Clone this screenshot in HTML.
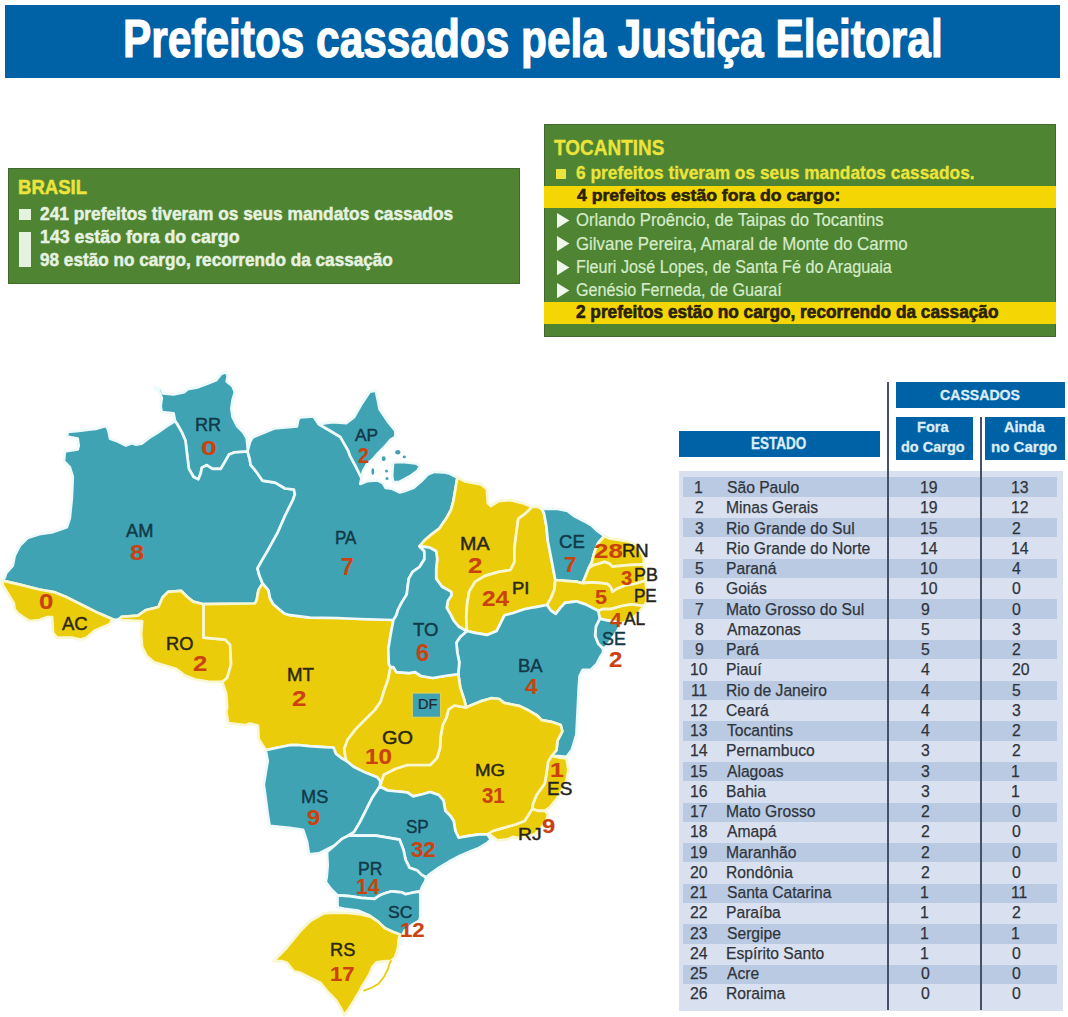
<!DOCTYPE html>
<html><head><meta charset="utf-8"><title>Prefeitos cassados pela Justiça Eleitoral</title><style>
html,body{margin:0;padding:0}
body{width:1068px;height:1017px;background:#fff;position:relative;overflow:hidden;font-family:"Liberation Sans",sans-serif}
.a{position:absolute;white-space:nowrap;line-height:1;transform-origin:0 0}
.r{position:absolute}
svg{position:absolute;left:0;top:0}
</style></head><body>
<div class="r" style="left:5px;top:5px;width:1055px;height:73px;background:#0062a6"></div>
<div class="r" style="left:8.4px;top:168.3px;width:511.4px;height:115.9px;background:#4f8433;box-shadow:inset 0 0 0 1px rgba(50,70,45,.45)"></div>
<div class="r" style="left:19px;top:208.5px;width:12px;height:11.5px;background:#e6f2e0"></div>
<div class="r" style="left:19px;top:231.5px;width:12px;height:35px;background:#e6f2e0"></div>
<div class="r" style="left:544.2px;top:124.1px;width:511.7px;height:212.7px;background:#4f8433;box-shadow:inset 0 0 0 1px rgba(50,70,45,.45)"></div>
<div class="r" style="left:544.2px;top:186px;width:511.7px;height:22px;background:#f4d604"></div>
<div class="r" style="left:544.2px;top:302px;width:511.7px;height:22px;background:#f4d604"></div>
<div class="r" style="left:555.5px;top:168.7px;width:10.3px;height:10.1px;background:#ece43c"></div>
<svg style="left:556.8px;top:212.8px" width="13" height="16"><polygon points="0,0 12.4,7.6 0,15.2" fill="#f0f7ec"/></svg>
<svg style="left:556.8px;top:236.4px" width="13" height="16"><polygon points="0,0 12.4,7.6 0,15.2" fill="#f0f7ec"/></svg>
<svg style="left:556.8px;top:259.5px" width="13" height="16"><polygon points="0,0 12.4,7.6 0,15.2" fill="#f0f7ec"/></svg>
<svg style="left:556.8px;top:282.5px" width="13" height="16"><polygon points="0,0 12.4,7.6 0,15.2" fill="#f0f7ec"/></svg>
<div class="r" style="left:679px;top:431px;width:200.5px;height:26px;background:#0062a6"></div>
<div class="r" style="left:896.3px;top:381.5px;width:168.7px;height:26px;background:#0062a6"></div>
<div class="r" style="left:895.8px;top:416.7px;width:77px;height:43.3px;background:#0062a6"></div>
<div class="r" style="left:985px;top:416.7px;width:80px;height:43.3px;background:#0062a6"></div>
<div class="r" style="left:679px;top:470.5px;width:384px;height:540px;background:#d9e0ef"></div>
<div class="r" style="left:683px;top:477.40px;width:373.5px;height:19.3px;background:#bacae3"></div>
<div class="r" style="left:683px;top:518.04px;width:373.5px;height:19.3px;background:#bacae3"></div>
<div class="r" style="left:683px;top:558.68px;width:373.5px;height:19.3px;background:#bacae3"></div>
<div class="r" style="left:683px;top:599.32px;width:373.5px;height:19.3px;background:#bacae3"></div>
<div class="r" style="left:683px;top:639.96px;width:373.5px;height:19.3px;background:#bacae3"></div>
<div class="r" style="left:683px;top:680.60px;width:373.5px;height:19.3px;background:#bacae3"></div>
<div class="r" style="left:683px;top:721.24px;width:373.5px;height:19.3px;background:#bacae3"></div>
<div class="r" style="left:683px;top:761.88px;width:373.5px;height:19.3px;background:#bacae3"></div>
<div class="r" style="left:683px;top:802.52px;width:373.5px;height:19.3px;background:#bacae3"></div>
<div class="r" style="left:683px;top:843.16px;width:373.5px;height:19.3px;background:#bacae3"></div>
<div class="r" style="left:683px;top:883.80px;width:373.5px;height:19.3px;background:#bacae3"></div>
<div class="r" style="left:683px;top:924.44px;width:373.5px;height:19.3px;background:#bacae3"></div>
<div class="r" style="left:683px;top:965.08px;width:373.5px;height:19.3px;background:#bacae3"></div>
<div class="r" style="left:886.5px;top:381.7px;width:2px;height:628px;background:#465066"></div>
<div class="r" style="left:979.5px;top:416.7px;width:2px;height:593px;background:#465066"></div>
<svg width="1068" height="1017" viewBox="0 0 1068 1017" style="left:0;top:0">
<polygon points="175.0,421.0 173.6,413.3 161.8,412.2 160.6,406.3 161.8,398.0 159.4,392.1 154.7,388.6 154.7,387.4 161.8,389.8 163.0,393.3 173.6,394.5 184.2,392.1 187.7,389.2 197.2,387.4 206.6,383.9 216.0,380.3 220.8,374.4 225.5,372.1 227.8,375.6 226.7,381.5 232.5,386.2 234.9,392.1 232.5,400.4 231.4,408.6 232.5,416.9 237.3,426.3 243.2,432.2 246.7,438.1 247.9,449.9 247.5,451.5 234.9,452.3 229.0,454.6 224.3,462.9 220.8,468.8 212.5,468.8 206.6,465.2 201.9,467.6 200.7,473.5 198.3,479.4 193.6,477.0 188.9,468.8 187.7,459.3 185.4,440.5 181.8,432.2 177.1,424.0" fill="#40a3b4" stroke="#eef9fa" stroke-width="2.7" stroke-linejoin="round"/>
<polygon points="2.5,580.6 4.9,577.3 5.9,573.4 12.8,565.5 14.7,555.7 19.7,545.9 27.5,538.0 39.3,534.1 53.1,532.1 66.9,527.2 69.8,518.3 71.8,498.7 72.8,477.0 69.8,467.2 63.9,461.3 64.9,451.5 77.7,449.5 78.7,445.6 77.7,438.7 66.9,436.7 67.8,431.8 78.7,430.8 90.5,429.4 96.4,428.8 102.3,426.9 106.2,425.9 108.2,429.8 110.1,438.7 118.0,441.6 125.9,445.6 131.8,443.2 135.7,444.6 141.6,443.6 149.5,437.7 157.3,432.8 167.2,425.9 175.0,421.0 177.1,424.0 181.8,432.2 185.4,440.5 187.7,459.3 188.9,468.8 193.6,477.0 198.3,479.4 200.7,473.5 201.9,467.6 206.6,465.2 212.5,468.8 220.8,468.8 224.3,462.9 229.0,454.6 234.9,452.3 247.5,451.5 249.7,459.0 250.6,464.9 255.6,470.8 262.4,480.6 275.2,482.6 285.1,488.5 293.9,489.5 294.9,494.4 292.9,500.0 285.2,515.5 277.4,533.2 267.6,550.9 261.7,560.9 257.5,568.4 259.2,575.1 262.6,583.4 258.4,590.1 256.7,600.2 255.0,603.5 203.6,604.2 193.0,601.6 186.5,596.2 181.1,590.8 168.1,591.9 162.7,597.3 158.4,607.0 145.4,610.3 137.9,615.7 121.6,616.8 120.0,618.5 116.0,620.0 112.1,619.0 98.3,613.1 82.6,605.2 64.9,596.4 55.1,592.4 39.3,589.5 19.7,584.6" fill="#40a3b4" stroke="#eef9fa" stroke-width="2.7" stroke-linejoin="round"/>
<polygon points="2.5,580.6 19.7,584.6 39.3,589.5 55.1,592.4 64.9,596.4 82.6,605.2 98.3,613.1 112.1,619.0 110.1,623.9 94.4,630.8 86.5,637.7 80.6,639.6 72.8,637.7 57.0,637.7 53.1,632.8 52.1,617.0 47.2,617.0 39.3,620.0 29.5,621.0 24.6,618.0 17.7,613.1 14.7,609.2 13.8,603.3 7.9,593.4 2.9,585.6" fill="#eacc0a" stroke="#f8f7d2" stroke-width="2.7" stroke-linejoin="round"/>
<polygon points="120.0,618.5 121.6,616.8 137.9,615.7 145.4,610.3 158.4,607.0 162.7,597.3 168.1,591.9 181.1,590.8 186.5,596.2 193.0,601.6 203.6,604.2 203.6,637.7 225.2,639.6 230.1,644.6 231.1,664.2 227.2,678.0 222.3,681.9 208.2,681.7 195.2,679.5 184.4,675.2 175.7,668.7 164.9,665.5 154.1,662.2 146.5,655.7 142.2,647.1 141.1,634.1 142.2,621.1 121.0,620.0" fill="#eacc0a" stroke="#f8f7d2" stroke-width="2.7" stroke-linejoin="round"/>
<polygon points="203.6,604.2 255.0,603.5 256.7,600.2 258.4,590.1 262.6,583.4 268.4,590.1 270.1,598.5 273.4,604.3 279.3,609.3 284.3,613.5 290.1,615.2 310.0,617.7 337.3,618.0 360.0,619.0 393.4,620.0 390.7,634.3 388.3,649.1 388.8,663.8 390.5,667.2 388.0,680.0 384.3,690.0 380.7,701.8 374.8,710.1 365.4,719.5 356.0,728.9 347.7,739.6 344.2,749.0 345.5,757.0 346.5,761.0 341.8,758.4 335.9,753.7 333.5,747.5 330.0,747.5 324.7,747.2 309.0,746.2 298.0,745.0 289.3,745.2 279.5,747.2 265.7,750.1 258.8,739.3 257.9,725.6 250.0,723.6 244.9,725.2 228.2,723.2 226.2,711.4 227.2,707.5 226.2,693.7 222.3,681.9 227.2,678.0 231.1,664.2 230.1,644.6 225.2,639.6 203.6,637.7" fill="#eacc0a" stroke="#f8f7d2" stroke-width="2.7" stroke-linejoin="round"/>
<polygon points="247.5,451.5 250.0,442.0 252.6,437.4 259.5,434.4 274.2,428.5 296.9,426.5 298.3,419.5 300.0,417.5 313.5,416.5 315.5,419.5 318.7,424.1 330.5,431.0 340.3,436.9 348.2,450.6 350.0,455.9 355.6,466.2 361.5,478.0 360.3,484.0 366.9,481.2 377.2,480.3 382.8,483.1 385.6,487.8 392.1,488.7 399.6,492.4 406.2,490.6 413.7,487.8 421.2,481.2 427.7,474.6 434.3,471.8 443.6,472.3 450.0,473.7 457.4,477.5 453.4,501.1 451.0,510.0 446.0,518.8 439.2,528.7 431.3,534.6 424.4,540.5 419.5,546.4 424.4,551.3 424.4,559.2 419.5,567.0 412.6,571.9 408.7,578.8 407.7,586.7 406.7,594.6 401.8,602.4 397.9,610.0 396.4,615.1 393.4,620.0 360.0,619.0 337.3,618.0 310.0,617.7 290.1,615.2 284.3,613.5 279.3,609.3 273.4,604.3 270.1,598.5 268.4,590.1 262.6,583.4 259.2,575.1 257.5,568.4 261.7,560.9 267.6,550.9 277.4,533.2 285.2,515.5 292.9,500.0 294.9,494.4 293.9,489.5 285.1,488.5 275.2,482.6 262.4,480.6 255.6,470.8 250.6,464.9 249.7,459.0" fill="#40a3b4" stroke="#eef9fa" stroke-width="2.7" stroke-linejoin="round"/>
<polygon points="318.7,424.1 332.4,422.1 346.2,423.1 354.1,417.2 361.9,403.4 369.8,391.6 375.7,390.6 377.7,399.5 379.6,409.3 387.5,421.1 395.4,431.0 395.4,436.9 390.3,440.0 385.6,445.6 378.1,453.1 373.4,458.7 366.9,464.3 363.1,470.9 361.5,478.0 355.6,466.2 350.0,455.9 348.2,450.6 340.3,436.9 330.5,431.0" fill="#40a3b4" stroke="#eef9fa" stroke-width="2.7" stroke-linejoin="round"/>
<polygon points="393.1,462.5 402.4,462.0 415.5,463.4 420.2,465.7 417.4,470.9 410.9,475.6 404.3,479.3 398.7,482.1 393.1,482.1 392.1,475.6 392.6,468.1" fill="#40a3b4" stroke="#eef9fa" stroke-width="2.7" stroke-linejoin="round"/>
<polygon points="457.4,477.5 461.3,479.5 465.2,481.5 481.0,484.4 486.9,489.3 487.8,503.1 490.8,506.0 498.7,501.1 510.5,500.1 522.3,503.1 532.1,507.0 526.2,512.9 518.3,518.8 516.4,532.6 514.4,548.3 514.4,562.1 510.5,570.0 498.7,571.9 484.9,575.9 475.1,581.8 469.2,591.6 467.2,603.4 466.2,617.2 467.0,631.0 463.5,629.4 458.6,626.5 453.7,620.6 450.7,614.7 446.8,607.8 447.8,600.9 451.7,595.0 451.0,591.6 442.1,586.7 436.2,578.8 436.2,569.0 437.2,559.2 436.2,551.3 429.3,547.4 419.5,546.4 424.4,540.5 431.3,534.6 439.2,528.7 446.0,518.8 451.0,510.0 453.4,501.1" fill="#eacc0a" stroke="#f8f7d2" stroke-width="2.7" stroke-linejoin="round"/>
<polygon points="532.1,507.0 538.0,507.0 541.9,509.0 543.9,513.1 546.3,525.7 547.9,541.5 551.0,557.2 553.4,569.8 555.3,580.0 554.2,590.3 551.0,598.1 547.0,605.0 534.1,607.3 524.2,609.3 512.4,613.2 504.6,615.2 500.6,623.1 496.7,630.9 486.9,634.9 475.1,632.9 467.0,631.0 466.2,617.2 467.2,603.4 469.2,591.6 475.1,581.8 484.9,575.9 498.7,571.9 510.5,570.0 514.4,562.1 514.4,548.3 516.4,532.6 518.3,518.8 526.2,512.9" fill="#eacc0a" stroke="#f8f7d2" stroke-width="2.7" stroke-linejoin="round"/>
<polygon points="541.9,509.0 557.7,509.0 567.5,511.0 574.6,516.3 587.2,522.8 591.9,525.7 597.0,530.6 604.5,536.0 598.2,543.0 594.3,552.5 591.9,561.9 588.8,568.2 585.6,576.1 582.5,583.2 576.2,581.6 565.2,580.8 555.3,580.0 553.4,569.8 551.0,557.2 547.9,541.5 546.3,525.7 543.9,513.1" fill="#40a3b4" stroke="#eef9fa" stroke-width="2.7" stroke-linejoin="round"/>
<polygon points="604.5,536.0 609.2,538.3 618.7,539.9 628.1,541.5 636.0,544.6 640.7,550.9 643.9,558.8 643.9,564.3 628.1,565.1 620.3,565.9 612.4,566.6 609.2,563.5 604.5,561.9 599.8,563.5 593.5,565.1 588.8,568.2 591.9,561.9 594.3,552.5 598.2,543.0" fill="#eacc0a" stroke="#f8f7d2" stroke-width="2.7" stroke-linejoin="round"/>
<polygon points="588.8,568.2 593.5,565.1 599.8,563.5 604.5,561.9 609.2,563.5 612.4,566.6 620.3,565.9 628.1,565.1 643.9,564.3 645.4,572.9 645.4,580.8 634.4,584.0 625.0,585.5 617.1,588.7 612.4,591.8 610.8,587.1 607.7,584.0 601.4,583.2 591.9,582.4 582.5,583.2 585.6,576.1" fill="#eacc0a" stroke="#f8f7d2" stroke-width="2.7" stroke-linejoin="round"/>
<polygon points="582.5,583.2 591.9,582.4 601.4,583.2 607.7,584.0 610.8,587.1 612.4,591.8 617.1,588.7 625.0,585.5 634.4,584.0 645.4,580.8 647.0,591.8 647.0,601.3 643.9,606.0 631.3,604.4 621.8,606.0 610.8,609.1 602.9,609.1 598.2,610.7 591.9,607.6 585.6,604.4 576.2,601.3 565.2,602.8 560.5,607.6 555.7,613.9 551.0,610.7 547.0,605.0 551.0,598.1 554.2,590.3 555.3,580.0 565.2,580.8 576.2,581.6" fill="#eacc0a" stroke="#f8f7d2" stroke-width="2.7" stroke-linejoin="round"/>
<polygon points="598.2,610.7 602.9,609.1 610.8,609.1 621.8,606.0 631.3,604.4 643.9,606.0 637.6,613.9 629.7,620.2 621.8,623.3 614.0,621.7 606.1,620.2 599.8,618.6" fill="#eacc0a" stroke="#f8f7d2" stroke-width="2.7" stroke-linejoin="round"/>
<polygon points="599.8,618.6 606.1,620.2 614.0,621.7 621.8,623.3 617.1,631.2 610.8,640.6 606.1,646.9 602.9,648.5 598.2,643.8 595.1,635.9 595.9,626.4" fill="#40a3b4" stroke="#eef9fa" stroke-width="2.7" stroke-linejoin="round"/>
<polygon points="458.3,674.1 459.3,662.3 457.3,652.4 456.4,642.6 460.3,636.7 467.0,631.0 475.1,632.9 486.9,634.9 496.7,630.9 500.6,623.1 504.6,615.2 512.4,613.2 524.2,609.3 534.1,607.3 547.0,605.0 551.0,610.7 555.7,613.9 560.5,607.6 565.2,602.8 576.2,601.3 585.6,604.4 591.9,607.6 598.2,610.7 599.8,618.6 595.9,626.4 595.1,635.9 598.2,643.8 602.9,648.5 603.2,652.6 600.0,657.3 596.9,663.6 590.6,669.9 582.7,669.9 579.6,676.2 578.8,687.2 578.0,702.9 577.2,718.7 576.4,734.4 573.3,745.0 571.7,750.1 566.6,756.9 559.0,756.0 551.5,756.0 556.5,750.1 557.5,740.7 562.3,731.3 560.7,725.0 551.3,721.8 541.8,720.2 537.1,715.5 529.2,710.8 519.8,706.1 511.9,704.5 504.1,702.9 499.3,699.0 491.5,698.2 480.5,701.4 469.4,706.1 466.2,707.5 464.2,699.6 460.3,687.8" fill="#40a3b4" stroke="#eef9fa" stroke-width="2.7" stroke-linejoin="round"/>
<polygon points="551.5,756.0 559.9,757.7 566.6,758.5 568.3,770.3 566.6,780.5 561.6,790.6 556.5,799.0 549.8,807.4 544.7,810.8 538.0,810.8 532.1,809.1 532.9,804.0 536.3,795.6 539.7,790.6 544.7,783.8 546.4,773.7 548.1,761.9" fill="#eacc0a" stroke="#f8f7d2" stroke-width="2.7" stroke-linejoin="round"/>
<polygon points="532.1,809.1 538.0,810.8 544.7,810.8 548.1,814.2 546.4,820.9 541.4,827.6 534.6,834.4 526.2,836.9 517.8,837.8 512.7,836.9 507.6,839.4 497.5,840.3 494.2,837.8 490.8,835.2 487.4,834.4 492.5,831.0 504.3,827.6 516.1,824.3 524.5,820.9 527.9,815.8" fill="#eacc0a" stroke="#f8f7d2" stroke-width="2.7" stroke-linejoin="round"/>
<polygon points="466.2,707.5 469.4,706.1 480.5,701.4 491.5,698.2 499.3,699.0 504.1,702.9 511.9,704.5 519.8,706.1 529.2,710.8 537.1,715.5 541.8,720.2 551.3,721.8 560.7,725.0 562.3,731.3 557.5,740.7 556.5,750.1 551.5,756.0 548.1,761.9 546.4,773.7 544.7,783.8 539.7,790.6 536.3,795.6 532.9,804.0 532.1,809.1 527.9,815.8 524.5,820.9 516.1,824.3 504.3,827.6 492.5,831.0 487.4,834.4 479.0,834.4 467.2,836.1 458.8,837.8 455.4,831.0 453.7,820.9 450.3,815.8 445.3,810.8 443.6,800.7 438.8,795.0 430.1,792.0 423.1,794.0 413.2,796.4 407.3,792.4 387.7,790.5 379.8,786.5 383.7,774.7 395.5,768.8 407.3,765.0 423.1,765.0 430.1,765.0 437.0,758.0 440.0,748.0 440.6,737.0 442.6,725.2 446.5,717.3 448.5,709.5 454.4,705.5" fill="#eacc0a" stroke="#f8f7d2" stroke-width="2.7" stroke-linejoin="round"/>
<polygon points="390.5,667.2 393.4,667.2 396.4,672.1 409.2,673.1 415.1,672.1 421.0,676.0 432.8,678.0 444.6,676.0 458.3,674.1 460.3,687.8 464.2,699.6 466.2,707.5 454.4,705.5 448.5,709.5 446.5,717.3 442.6,725.2 440.6,737.0 440.0,748.0 437.0,758.0 430.1,765.0 423.1,765.0 407.3,765.0 395.5,768.8 383.7,774.7 379.8,786.5 380.3,781.0 377.2,777.3 365.4,772.6 353.6,766.7 346.5,761.0 345.5,757.0 344.2,749.0 347.7,739.6 356.0,728.9 365.4,719.5 374.8,710.1 380.7,701.8 384.3,690.0 388.0,680.0" fill="#eacc0a" stroke="#f8f7d2" stroke-width="2.7" stroke-linejoin="round"/>
<polygon points="419.5,546.4 429.3,547.4 436.2,551.3 437.2,559.2 436.2,569.0 436.2,578.8 442.1,586.7 451.0,591.6 451.7,595.0 447.8,600.9 446.8,607.8 450.7,614.7 453.7,620.6 458.6,626.5 463.5,629.4 467.0,631.0 460.3,636.7 456.4,642.6 457.3,652.4 459.3,662.3 458.3,674.1 444.6,676.0 432.8,678.0 421.0,676.0 415.1,672.1 409.2,673.1 396.4,672.1 393.4,667.2 390.5,667.2 388.8,663.8 388.3,649.1 390.7,634.3 393.4,620.0 396.4,615.1 397.9,610.0 401.8,602.4 406.7,594.6 407.7,586.7 408.7,578.8 412.6,571.9 419.5,567.0 424.4,559.2 424.4,551.3" fill="#40a3b4" stroke="#eef9fa" stroke-width="2.7" stroke-linejoin="round"/>
<polygon points="265.7,750.1 279.5,747.2 289.3,745.2 298.0,745.0 309.0,746.2 324.7,747.2 330.0,747.5 333.5,747.5 335.9,753.7 341.8,758.4 346.5,761.0 353.6,766.7 365.4,772.6 377.2,777.3 380.3,781.0 379.8,786.5 371.9,798.3 366.0,810.1 360.1,821.9 354.2,831.8 348.3,835.7 342.4,838.6 334.6,845.5 318.8,853.4 309.0,854.4 307.0,841.6 303.1,829.8 289.3,827.8 269.7,825.9 267.7,814.1 265.7,798.3 263.8,784.6 265.7,772.8 267.7,761.0" fill="#40a3b4" stroke="#eef9fa" stroke-width="2.7" stroke-linejoin="round"/>
<polygon points="348.3,835.7 354.2,831.8 360.1,821.9 366.0,810.1 371.9,798.3 379.8,786.5 387.7,790.5 407.3,792.4 413.2,796.4 423.1,794.0 430.1,792.0 438.8,795.0 443.6,800.7 445.3,810.8 450.3,815.8 453.7,820.9 455.4,831.0 458.8,837.8 467.2,836.1 479.0,834.4 487.4,834.4 490.8,839.4 487.4,842.8 479.0,847.9 470.6,851.2 459.6,855.9 448.8,861.8 439.0,867.7 429.2,874.6 426.2,877.5 421.3,874.6 417.4,870.6 409.5,867.7 405.6,859.8 403.4,849.5 399.5,839.6 387.7,837.7 375.9,835.7 360.1,835.7" fill="#40a3b4" stroke="#eef9fa" stroke-width="2.7" stroke-linejoin="round"/>
<polygon points="348.3,835.7 360.1,835.7 375.9,835.7 387.7,837.7 399.5,839.6 403.4,849.5 405.6,859.8 409.5,867.7 417.4,870.6 421.3,874.6 426.2,877.5 425.2,881.5 422.3,886.4 420.3,891.3 414.4,892.3 405.6,894.2 401.6,892.3 391.8,891.3 384.9,893.3 380.0,895.2 374.6,898.8 361.1,897.9 349.3,896.2 337.5,895.4 330.8,888.7 325.7,881.9 326.7,877.0 327.7,865.2 327.0,852.0 334.6,845.5 342.4,838.6" fill="#40a3b4" stroke="#eef9fa" stroke-width="2.7" stroke-linejoin="round"/>
<polygon points="337.5,895.4 349.3,896.2 361.1,897.9 374.6,898.8 380.0,895.2 384.9,893.3 391.8,891.3 401.6,892.3 405.6,894.2 414.4,892.3 420.3,891.3 420.3,904.1 420.3,916.9 419.3,920.8 412.4,924.7 404.6,930.6 402.6,934.6 401.8,941.4 401.6,944.6 399.9,941.0 399.7,934.5 391.8,931.6 385.9,928.7 380.0,924.7 378.0,922.4 369.6,915.6 357.8,910.6 344.3,908.9 337.5,907.2" fill="#40a3b4" stroke="#eef9fa" stroke-width="2.7" stroke-linejoin="round"/>
<polygon points="399.9,934.6 393.2,932.0 384.7,928.0 378.0,921.5 371.2,917.0 361.1,914.4 347.6,912.8 334.2,912.6 324.0,913.4 310.6,920.7 300.5,930.8 293.7,939.2 285.3,949.3 276.9,957.8 273.5,961.1 281.9,961.1 287.0,962.8 293.7,971.2 300.5,972.9 310.6,978.0 320.7,983.0 327.4,991.5 335.8,999.9 340.9,1008.3 344.3,1015.1 349.3,1008.3 354.4,999.9 357.2,995.0 359.3,992.0 362.0,986.4 366.2,979.6 369.6,974.0 372.3,967.2 376.5,962.3 381.3,961.7 386.8,961.0 391.0,961.0 395.0,957.5 398.0,948.0 398.5,940.3" fill="#eacc0a" stroke="#f8f7d2" stroke-width="2.7" stroke-linejoin="round"/>
<polyline points="391.0,961.0 389.5,963.5 388.2,968.5 384.0,976.8 378.5,983.7 371.7,987.8 364.1,990.6" fill="none" stroke="#eacc0a" stroke-width="1.8" stroke-linecap="round"/>
<ellipse cx="397.8" cy="452.2" rx="2.6" ry="2.2" fill="#40a3b4"/>
<ellipse cx="404.3" cy="456.9" rx="1.6" ry="1.4" fill="#40a3b4"/>
<ellipse cx="383.7" cy="458.7" rx="2.0" ry="2.4" fill="#40a3b4"/>
<ellipse cx="372.8" cy="471.5" rx="1.4" ry="3.2" fill="#40a3b4"/>
<ellipse cx="386.5" cy="470.9" rx="1.5" ry="1.5" fill="#40a3b4"/>
<ellipse cx="387" cy="478.4" rx="1.5" ry="1.5" fill="#40a3b4"/>
<rect x="412.3" y="693" width="28.3" height="24.3" fill="#40a3b4" stroke="#e0d050" stroke-width="1.2"/>
</svg>
<div class="a" style="left:123.36px;top:11.96px;font-size:53.09px;font-weight:bold;color:#fff;transform:scaleX(0.7984);-webkit-text-stroke:1.2px #fff;">Prefeitos cassados pela Justiça Eleitoral</div>
<div class="a" style="left:17.54px;top:177.45px;font-size:20.43px;font-weight:bold;color:#ece43c;transform:scaleX(0.9073);-webkit-text-stroke:0.5px #ece43c;">BRASIL</div>
<div class="a" style="left:40.03px;top:203.85px;font-size:19.14px;font-weight:bold;color:#e6f2e0;transform:scaleX(0.9059);-webkit-text-stroke:0.5px #e6f2e0;">241 prefeitos tiveram os seus mandatos cassados</div>
<div class="a" style="left:39.68px;top:226.85px;font-size:19.14px;font-weight:bold;color:#e6f2e0;transform:scaleX(0.9292);-webkit-text-stroke:0.5px #e6f2e0;">143 estão fora do cargo</div>
<div class="a" style="left:40.23px;top:249.95px;font-size:19.14px;font-weight:bold;color:#e6f2e0;transform:scaleX(0.8971);-webkit-text-stroke:0.5px #e6f2e0;">98 estão no cargo, recorrendo da cassação</div>
<div class="a" style="left:554.16px;top:137.07px;font-size:22.30px;font-weight:bold;color:#ece43c;transform:scaleX(0.8512);-webkit-text-stroke:0.3px #ece43c;">TOCANTINS</div>
<div class="a" style="left:576.13px;top:163.54px;font-size:18.56px;font-weight:bold;color:#ece43c;transform:scaleX(0.9340);-webkit-text-stroke:0.3px #ece43c;">6 prefeitos tiveram os seus mandatos cassados.</div>
<div class="a" style="left:576.62px;top:187.36px;font-size:17.41px;font-weight:bold;color:#2a2208;transform:scaleX(1.0118);-webkit-text-stroke:0.6px #2a2208;">4 prefeitos estão fora do cargo:</div>
<div class="a" style="left:576.28px;top:303.64px;font-size:17.55px;font-weight:bold;color:#2a2208;transform:scaleX(0.9831);-webkit-text-stroke:0.6px #2a2208;">2 prefeitos estão no cargo, recorrendo da cassação</div>
<div class="a" style="left:576.43px;top:210.18px;font-size:19.28px;font-weight:normal;color:#d6ecca;transform:scaleX(0.8643);-webkit-text-stroke:0.2px #d6ecca;">Orlando Proêncio, de Taipas do Tocantins</div>
<div class="a" style="left:576.26px;top:233.78px;font-size:19.28px;font-weight:normal;color:#d6ecca;transform:scaleX(0.8750);-webkit-text-stroke:0.2px #d6ecca;">Gilvane Pereira, Amaral de Monte do Carmo</div>
<div class="a" style="left:575.80px;top:256.88px;font-size:19.28px;font-weight:normal;color:#d6ecca;transform:scaleX(0.8400);-webkit-text-stroke:0.2px #d6ecca;">Fleuri José Lopes, de Santa Fé do Araguaia</div>
<div class="a" style="left:576.29px;top:279.88px;font-size:19.28px;font-weight:normal;color:#d6ecca;transform:scaleX(0.8392);-webkit-text-stroke:0.2px #d6ecca;">Genésio Ferneda, de Guaraí</div>
<div class="a" style="left:750.94px;top:436.27px;font-size:15.68px;font-weight:bold;color:#dcecf8;transform:scaleX(0.8619);-webkit-text-stroke:0.3px #dcecf8;">ESTADO</div>
<div class="a" style="left:939.59px;top:387.06px;font-size:15.11px;font-weight:bold;color:#dcecf8;transform:scaleX(0.9342);-webkit-text-stroke:0.3px #dcecf8;">CASSADOS</div>
<div class="a" style="left:916.78px;top:418.64px;font-size:15.25px;font-weight:bold;color:#dcecf8;transform:scaleX(0.9553);-webkit-text-stroke:0.3px #dcecf8;">Fora</div>
<div class="a" style="left:900.87px;top:438.68px;font-size:15.21px;font-weight:bold;color:#dcecf8;transform:scaleX(0.9535);-webkit-text-stroke:0.3px #dcecf8;">do Cargo</div>
<div class="a" style="left:1004.06px;top:418.64px;font-size:15.25px;font-weight:bold;color:#dcecf8;transform:scaleX(0.9581);-webkit-text-stroke:0.3px #dcecf8;">Ainda</div>
<div class="a" style="left:990.95px;top:438.64px;font-size:15.25px;font-weight:bold;color:#dcecf8;transform:scaleX(0.9870);-webkit-text-stroke:0.3px #dcecf8;">no Cargo</div>
<div class="a" style="left:694.46px;top:479.22px;font-size:17.19px;font-weight:normal;color:#2f343c;transform:scaleX(0.9200);-webkit-text-stroke:0.25px #2f343c;">1</div>
<div class="a" style="left:726.60px;top:479.22px;font-size:17.19px;font-weight:normal;color:#2f343c;transform:scaleX(0.9100);-webkit-text-stroke:0.25px #2f343c;">São Paulo</div>
<div class="a" style="left:920.42px;top:479.22px;font-size:17.19px;font-weight:normal;color:#2f343c;transform:scaleX(0.9200);-webkit-text-stroke:0.25px #2f343c;">19</div>
<div class="a" style="left:1011.22px;top:479.22px;font-size:17.19px;font-weight:normal;color:#2f343c;transform:scaleX(0.9200);-webkit-text-stroke:0.25px #2f343c;">13</div>
<div class="a" style="left:694.62px;top:499.47px;font-size:17.19px;font-weight:normal;color:#2f343c;transform:scaleX(0.9200);-webkit-text-stroke:0.25px #2f343c;">2</div>
<div class="a" style="left:725.97px;top:499.47px;font-size:17.19px;font-weight:normal;color:#2f343c;transform:scaleX(0.9100);-webkit-text-stroke:0.25px #2f343c;">Minas Gerais</div>
<div class="a" style="left:920.42px;top:499.47px;font-size:17.19px;font-weight:normal;color:#2f343c;transform:scaleX(0.9200);-webkit-text-stroke:0.25px #2f343c;">19</div>
<div class="a" style="left:1011.22px;top:499.47px;font-size:17.19px;font-weight:normal;color:#2f343c;transform:scaleX(0.9200);-webkit-text-stroke:0.25px #2f343c;">12</div>
<div class="a" style="left:694.69px;top:519.72px;font-size:17.19px;font-weight:normal;color:#2f343c;transform:scaleX(0.9200);-webkit-text-stroke:0.25px #2f343c;">3</div>
<div class="a" style="left:725.97px;top:519.72px;font-size:17.19px;font-weight:normal;color:#2f343c;transform:scaleX(0.9100);-webkit-text-stroke:0.25px #2f343c;">Rio Grande do Sul</div>
<div class="a" style="left:920.42px;top:519.72px;font-size:17.19px;font-weight:normal;color:#2f343c;transform:scaleX(0.9200);-webkit-text-stroke:0.25px #2f343c;">15</div>
<div class="a" style="left:1011.53px;top:519.72px;font-size:17.19px;font-weight:normal;color:#2f343c;transform:scaleX(0.9200);-webkit-text-stroke:0.25px #2f343c;">2</div>
<div class="a" style="left:694.69px;top:539.97px;font-size:17.19px;font-weight:normal;color:#2f343c;transform:scaleX(0.9200);-webkit-text-stroke:0.25px #2f343c;">4</div>
<div class="a" style="left:725.97px;top:539.97px;font-size:17.19px;font-weight:normal;color:#2f343c;transform:scaleX(0.9100);-webkit-text-stroke:0.25px #2f343c;">Rio Grande do Norte</div>
<div class="a" style="left:920.42px;top:539.97px;font-size:17.19px;font-weight:normal;color:#2f343c;transform:scaleX(0.9200);-webkit-text-stroke:0.25px #2f343c;">14</div>
<div class="a" style="left:1011.22px;top:539.97px;font-size:17.19px;font-weight:normal;color:#2f343c;transform:scaleX(0.9200);-webkit-text-stroke:0.25px #2f343c;">14</div>
<div class="a" style="left:694.62px;top:560.22px;font-size:17.19px;font-weight:normal;color:#2f343c;transform:scaleX(0.9200);-webkit-text-stroke:0.25px #2f343c;">5</div>
<div class="a" style="left:725.97px;top:560.22px;font-size:17.19px;font-weight:normal;color:#2f343c;transform:scaleX(0.9100);-webkit-text-stroke:0.25px #2f343c;">Paraná</div>
<div class="a" style="left:920.42px;top:560.22px;font-size:17.19px;font-weight:normal;color:#2f343c;transform:scaleX(0.9200);-webkit-text-stroke:0.25px #2f343c;">10</div>
<div class="a" style="left:1012.01px;top:560.22px;font-size:17.19px;font-weight:normal;color:#2f343c;transform:scaleX(0.9200);-webkit-text-stroke:0.25px #2f343c;">4</div>
<div class="a" style="left:694.54px;top:580.47px;font-size:17.19px;font-weight:normal;color:#2f343c;transform:scaleX(0.9200);-webkit-text-stroke:0.25px #2f343c;">6</div>
<div class="a" style="left:726.44px;top:580.47px;font-size:17.19px;font-weight:normal;color:#2f343c;transform:scaleX(0.9100);-webkit-text-stroke:0.25px #2f343c;">Goiás</div>
<div class="a" style="left:920.42px;top:580.47px;font-size:17.19px;font-weight:normal;color:#2f343c;transform:scaleX(0.9200);-webkit-text-stroke:0.25px #2f343c;">10</div>
<div class="a" style="left:1011.85px;top:580.47px;font-size:17.19px;font-weight:normal;color:#2f343c;transform:scaleX(0.9200);-webkit-text-stroke:0.25px #2f343c;">0</div>
<div class="a" style="left:694.62px;top:600.72px;font-size:17.19px;font-weight:normal;color:#2f343c;transform:scaleX(0.9200);-webkit-text-stroke:0.25px #2f343c;">7</div>
<div class="a" style="left:725.97px;top:600.72px;font-size:17.19px;font-weight:normal;color:#2f343c;transform:scaleX(0.9100);-webkit-text-stroke:0.25px #2f343c;">Mato Grosso do Sul</div>
<div class="a" style="left:920.89px;top:600.72px;font-size:17.19px;font-weight:normal;color:#2f343c;transform:scaleX(0.9200);-webkit-text-stroke:0.25px #2f343c;">9</div>
<div class="a" style="left:1011.85px;top:600.72px;font-size:17.19px;font-weight:normal;color:#2f343c;transform:scaleX(0.9200);-webkit-text-stroke:0.25px #2f343c;">0</div>
<div class="a" style="left:694.62px;top:620.97px;font-size:17.19px;font-weight:normal;color:#2f343c;transform:scaleX(0.9200);-webkit-text-stroke:0.25px #2f343c;">8</div>
<div class="a" style="left:727.23px;top:620.97px;font-size:17.19px;font-weight:normal;color:#2f343c;transform:scaleX(0.9100);-webkit-text-stroke:0.25px #2f343c;">Amazonas</div>
<div class="a" style="left:920.89px;top:620.97px;font-size:17.19px;font-weight:normal;color:#2f343c;transform:scaleX(0.9200);-webkit-text-stroke:0.25px #2f343c;">5</div>
<div class="a" style="left:1011.85px;top:620.97px;font-size:17.19px;font-weight:normal;color:#2f343c;transform:scaleX(0.9200);-webkit-text-stroke:0.25px #2f343c;">3</div>
<div class="a" style="left:694.70px;top:641.22px;font-size:17.19px;font-weight:normal;color:#2f343c;transform:scaleX(0.9200);-webkit-text-stroke:0.25px #2f343c;">9</div>
<div class="a" style="left:725.97px;top:641.22px;font-size:17.19px;font-weight:normal;color:#2f343c;transform:scaleX(0.9100);-webkit-text-stroke:0.25px #2f343c;">Pará</div>
<div class="a" style="left:920.89px;top:641.22px;font-size:17.19px;font-weight:normal;color:#2f343c;transform:scaleX(0.9200);-webkit-text-stroke:0.25px #2f343c;">5</div>
<div class="a" style="left:1011.53px;top:641.22px;font-size:17.19px;font-weight:normal;color:#2f343c;transform:scaleX(0.9200);-webkit-text-stroke:0.25px #2f343c;">2</div>
<div class="a" style="left:689.89px;top:661.47px;font-size:17.19px;font-weight:normal;color:#2f343c;transform:scaleX(0.9200);-webkit-text-stroke:0.25px #2f343c;">10</div>
<div class="a" style="left:725.97px;top:661.47px;font-size:17.19px;font-weight:normal;color:#2f343c;transform:scaleX(0.9100);-webkit-text-stroke:0.25px #2f343c;">Piauí</div>
<div class="a" style="left:921.21px;top:661.47px;font-size:17.19px;font-weight:normal;color:#2f343c;transform:scaleX(0.9200);-webkit-text-stroke:0.25px #2f343c;">4</div>
<div class="a" style="left:1011.53px;top:661.47px;font-size:17.19px;font-weight:normal;color:#2f343c;transform:scaleX(0.9200);-webkit-text-stroke:0.25px #2f343c;">20</div>
<div class="a" style="left:690.57px;top:681.72px;font-size:17.19px;font-weight:normal;color:#2f343c;transform:scaleX(0.9200);-webkit-text-stroke:0.25px #2f343c;">11</div>
<div class="a" style="left:725.97px;top:681.72px;font-size:17.19px;font-weight:normal;color:#2f343c;transform:scaleX(0.9100);-webkit-text-stroke:0.25px #2f343c;">Rio de Janeiro</div>
<div class="a" style="left:921.21px;top:681.72px;font-size:17.19px;font-weight:normal;color:#2f343c;transform:scaleX(0.9200);-webkit-text-stroke:0.25px #2f343c;">4</div>
<div class="a" style="left:1011.69px;top:681.72px;font-size:17.19px;font-weight:normal;color:#2f343c;transform:scaleX(0.9200);-webkit-text-stroke:0.25px #2f343c;">5</div>
<div class="a" style="left:689.97px;top:701.97px;font-size:17.19px;font-weight:normal;color:#2f343c;transform:scaleX(0.9200);-webkit-text-stroke:0.25px #2f343c;">12</div>
<div class="a" style="left:726.44px;top:701.97px;font-size:17.19px;font-weight:normal;color:#2f343c;transform:scaleX(0.9100);-webkit-text-stroke:0.25px #2f343c;">Ceará</div>
<div class="a" style="left:921.21px;top:701.97px;font-size:17.19px;font-weight:normal;color:#2f343c;transform:scaleX(0.9200);-webkit-text-stroke:0.25px #2f343c;">4</div>
<div class="a" style="left:1011.85px;top:701.97px;font-size:17.19px;font-weight:normal;color:#2f343c;transform:scaleX(0.9200);-webkit-text-stroke:0.25px #2f343c;">3</div>
<div class="a" style="left:689.89px;top:722.22px;font-size:17.19px;font-weight:normal;color:#2f343c;transform:scaleX(0.9200);-webkit-text-stroke:0.25px #2f343c;">13</div>
<div class="a" style="left:726.91px;top:722.22px;font-size:17.19px;font-weight:normal;color:#2f343c;transform:scaleX(0.9100);-webkit-text-stroke:0.25px #2f343c;">Tocantins</div>
<div class="a" style="left:921.21px;top:722.22px;font-size:17.19px;font-weight:normal;color:#2f343c;transform:scaleX(0.9200);-webkit-text-stroke:0.25px #2f343c;">4</div>
<div class="a" style="left:1011.53px;top:722.22px;font-size:17.19px;font-weight:normal;color:#2f343c;transform:scaleX(0.9200);-webkit-text-stroke:0.25px #2f343c;">2</div>
<div class="a" style="left:689.81px;top:742.47px;font-size:17.19px;font-weight:normal;color:#2f343c;transform:scaleX(0.9200);-webkit-text-stroke:0.25px #2f343c;">14</div>
<div class="a" style="left:725.97px;top:742.47px;font-size:17.19px;font-weight:normal;color:#2f343c;transform:scaleX(0.9100);-webkit-text-stroke:0.25px #2f343c;">Pernambuco</div>
<div class="a" style="left:921.05px;top:742.47px;font-size:17.19px;font-weight:normal;color:#2f343c;transform:scaleX(0.9200);-webkit-text-stroke:0.25px #2f343c;">3</div>
<div class="a" style="left:1011.53px;top:742.47px;font-size:17.19px;font-weight:normal;color:#2f343c;transform:scaleX(0.9200);-webkit-text-stroke:0.25px #2f343c;">2</div>
<div class="a" style="left:689.89px;top:762.72px;font-size:17.19px;font-weight:normal;color:#2f343c;transform:scaleX(0.9200);-webkit-text-stroke:0.25px #2f343c;">15</div>
<div class="a" style="left:727.23px;top:762.72px;font-size:17.19px;font-weight:normal;color:#2f343c;transform:scaleX(0.9100);-webkit-text-stroke:0.25px #2f343c;">Alagoas</div>
<div class="a" style="left:921.05px;top:762.72px;font-size:17.19px;font-weight:normal;color:#2f343c;transform:scaleX(0.9200);-webkit-text-stroke:0.25px #2f343c;">3</div>
<div class="a" style="left:1011.22px;top:762.72px;font-size:17.19px;font-weight:normal;color:#2f343c;transform:scaleX(0.9200);-webkit-text-stroke:0.25px #2f343c;">1</div>
<div class="a" style="left:689.89px;top:782.97px;font-size:17.19px;font-weight:normal;color:#2f343c;transform:scaleX(0.9200);-webkit-text-stroke:0.25px #2f343c;">16</div>
<div class="a" style="left:725.97px;top:782.97px;font-size:17.19px;font-weight:normal;color:#2f343c;transform:scaleX(0.9100);-webkit-text-stroke:0.25px #2f343c;">Bahia</div>
<div class="a" style="left:921.05px;top:782.97px;font-size:17.19px;font-weight:normal;color:#2f343c;transform:scaleX(0.9200);-webkit-text-stroke:0.25px #2f343c;">3</div>
<div class="a" style="left:1011.22px;top:782.97px;font-size:17.19px;font-weight:normal;color:#2f343c;transform:scaleX(0.9200);-webkit-text-stroke:0.25px #2f343c;">1</div>
<div class="a" style="left:689.97px;top:803.22px;font-size:17.19px;font-weight:normal;color:#2f343c;transform:scaleX(0.9200);-webkit-text-stroke:0.25px #2f343c;">17</div>
<div class="a" style="left:725.97px;top:803.22px;font-size:17.19px;font-weight:normal;color:#2f343c;transform:scaleX(0.9100);-webkit-text-stroke:0.25px #2f343c;">Mato Grosso</div>
<div class="a" style="left:920.73px;top:803.22px;font-size:17.19px;font-weight:normal;color:#2f343c;transform:scaleX(0.9200);-webkit-text-stroke:0.25px #2f343c;">2</div>
<div class="a" style="left:1011.85px;top:803.22px;font-size:17.19px;font-weight:normal;color:#2f343c;transform:scaleX(0.9200);-webkit-text-stroke:0.25px #2f343c;">0</div>
<div class="a" style="left:689.89px;top:823.47px;font-size:17.19px;font-weight:normal;color:#2f343c;transform:scaleX(0.9200);-webkit-text-stroke:0.25px #2f343c;">18</div>
<div class="a" style="left:727.23px;top:823.47px;font-size:17.19px;font-weight:normal;color:#2f343c;transform:scaleX(0.9100);-webkit-text-stroke:0.25px #2f343c;">Amapá</div>
<div class="a" style="left:920.73px;top:823.47px;font-size:17.19px;font-weight:normal;color:#2f343c;transform:scaleX(0.9200);-webkit-text-stroke:0.25px #2f343c;">2</div>
<div class="a" style="left:1011.85px;top:823.47px;font-size:17.19px;font-weight:normal;color:#2f343c;transform:scaleX(0.9200);-webkit-text-stroke:0.25px #2f343c;">0</div>
<div class="a" style="left:689.97px;top:843.72px;font-size:17.19px;font-weight:normal;color:#2f343c;transform:scaleX(0.9200);-webkit-text-stroke:0.25px #2f343c;">19</div>
<div class="a" style="left:725.97px;top:843.72px;font-size:17.19px;font-weight:normal;color:#2f343c;transform:scaleX(0.9100);-webkit-text-stroke:0.25px #2f343c;">Maranhão</div>
<div class="a" style="left:920.73px;top:843.72px;font-size:17.19px;font-weight:normal;color:#2f343c;transform:scaleX(0.9200);-webkit-text-stroke:0.25px #2f343c;">2</div>
<div class="a" style="left:1011.85px;top:843.72px;font-size:17.19px;font-weight:normal;color:#2f343c;transform:scaleX(0.9200);-webkit-text-stroke:0.25px #2f343c;">0</div>
<div class="a" style="left:690.05px;top:863.97px;font-size:17.19px;font-weight:normal;color:#2f343c;transform:scaleX(0.9200);-webkit-text-stroke:0.25px #2f343c;">20</div>
<div class="a" style="left:725.97px;top:863.97px;font-size:17.19px;font-weight:normal;color:#2f343c;transform:scaleX(0.9100);-webkit-text-stroke:0.25px #2f343c;">Rondônia</div>
<div class="a" style="left:920.73px;top:863.97px;font-size:17.19px;font-weight:normal;color:#2f343c;transform:scaleX(0.9200);-webkit-text-stroke:0.25px #2f343c;">2</div>
<div class="a" style="left:1011.85px;top:863.97px;font-size:17.19px;font-weight:normal;color:#2f343c;transform:scaleX(0.9200);-webkit-text-stroke:0.25px #2f343c;">0</div>
<div class="a" style="left:690.13px;top:884.22px;font-size:17.19px;font-weight:normal;color:#2f343c;transform:scaleX(0.9200);-webkit-text-stroke:0.25px #2f343c;">21</div>
<div class="a" style="left:726.60px;top:884.22px;font-size:17.19px;font-weight:normal;color:#2f343c;transform:scaleX(0.9100);-webkit-text-stroke:0.25px #2f343c;">Santa Catarina</div>
<div class="a" style="left:920.42px;top:884.22px;font-size:17.19px;font-weight:normal;color:#2f343c;transform:scaleX(0.9200);-webkit-text-stroke:0.25px #2f343c;">1</div>
<div class="a" style="left:1011.22px;top:884.22px;font-size:17.19px;font-weight:normal;color:#2f343c;transform:scaleX(0.9200);-webkit-text-stroke:0.25px #2f343c;">11</div>
<div class="a" style="left:690.13px;top:904.47px;font-size:17.19px;font-weight:normal;color:#2f343c;transform:scaleX(0.9200);-webkit-text-stroke:0.25px #2f343c;">22</div>
<div class="a" style="left:725.97px;top:904.47px;font-size:17.19px;font-weight:normal;color:#2f343c;transform:scaleX(0.9100);-webkit-text-stroke:0.25px #2f343c;">Paraíba</div>
<div class="a" style="left:920.42px;top:904.47px;font-size:17.19px;font-weight:normal;color:#2f343c;transform:scaleX(0.9200);-webkit-text-stroke:0.25px #2f343c;">1</div>
<div class="a" style="left:1011.53px;top:904.47px;font-size:17.19px;font-weight:normal;color:#2f343c;transform:scaleX(0.9200);-webkit-text-stroke:0.25px #2f343c;">2</div>
<div class="a" style="left:690.05px;top:924.72px;font-size:17.19px;font-weight:normal;color:#2f343c;transform:scaleX(0.9200);-webkit-text-stroke:0.25px #2f343c;">23</div>
<div class="a" style="left:726.60px;top:924.72px;font-size:17.19px;font-weight:normal;color:#2f343c;transform:scaleX(0.9100);-webkit-text-stroke:0.25px #2f343c;">Sergipe</div>
<div class="a" style="left:920.42px;top:924.72px;font-size:17.19px;font-weight:normal;color:#2f343c;transform:scaleX(0.9200);-webkit-text-stroke:0.25px #2f343c;">1</div>
<div class="a" style="left:1011.22px;top:924.72px;font-size:17.19px;font-weight:normal;color:#2f343c;transform:scaleX(0.9200);-webkit-text-stroke:0.25px #2f343c;">1</div>
<div class="a" style="left:689.97px;top:944.97px;font-size:17.19px;font-weight:normal;color:#2f343c;transform:scaleX(0.9200);-webkit-text-stroke:0.25px #2f343c;">24</div>
<div class="a" style="left:725.97px;top:944.97px;font-size:17.19px;font-weight:normal;color:#2f343c;transform:scaleX(0.9100);-webkit-text-stroke:0.25px #2f343c;">Espírito Santo</div>
<div class="a" style="left:920.42px;top:944.97px;font-size:17.19px;font-weight:normal;color:#2f343c;transform:scaleX(0.9200);-webkit-text-stroke:0.25px #2f343c;">1</div>
<div class="a" style="left:1011.85px;top:944.97px;font-size:17.19px;font-weight:normal;color:#2f343c;transform:scaleX(0.9200);-webkit-text-stroke:0.25px #2f343c;">0</div>
<div class="a" style="left:690.05px;top:965.22px;font-size:17.19px;font-weight:normal;color:#2f343c;transform:scaleX(0.9200);-webkit-text-stroke:0.25px #2f343c;">25</div>
<div class="a" style="left:727.23px;top:965.22px;font-size:17.19px;font-weight:normal;color:#2f343c;transform:scaleX(0.9100);-webkit-text-stroke:0.25px #2f343c;">Acre</div>
<div class="a" style="left:921.05px;top:965.22px;font-size:17.19px;font-weight:normal;color:#2f343c;transform:scaleX(0.9200);-webkit-text-stroke:0.25px #2f343c;">0</div>
<div class="a" style="left:1011.85px;top:965.22px;font-size:17.19px;font-weight:normal;color:#2f343c;transform:scaleX(0.9200);-webkit-text-stroke:0.25px #2f343c;">0</div>
<div class="a" style="left:690.05px;top:985.47px;font-size:17.19px;font-weight:normal;color:#2f343c;transform:scaleX(0.9200);-webkit-text-stroke:0.25px #2f343c;">26</div>
<div class="a" style="left:725.97px;top:985.47px;font-size:17.19px;font-weight:normal;color:#2f343c;transform:scaleX(0.9100);-webkit-text-stroke:0.25px #2f343c;">Roraima</div>
<div class="a" style="left:921.05px;top:985.47px;font-size:17.19px;font-weight:normal;color:#2f343c;transform:scaleX(0.9200);-webkit-text-stroke:0.25px #2f343c;">0</div>
<div class="a" style="left:1011.85px;top:985.47px;font-size:17.19px;font-weight:normal;color:#2f343c;transform:scaleX(0.9200);-webkit-text-stroke:0.25px #2f343c;">0</div>
<div class="a" style="left:195.38px;top:416.78px;font-size:17.48px;font-weight:normal;color:#103a48;transform:scaleX(1.0362);-webkit-text-stroke:0.45px #103a48;">RR</div>
<div class="a" style="left:200.62px;top:437.57px;font-size:20.50px;font-weight:bold;color:#c9420f;transform:scaleX(1.3885);-webkit-text-stroke:0.15px #c9420f;">0</div>
<div class="a" style="left:126.12px;top:522.73px;font-size:17.77px;font-weight:normal;color:#103a48;transform:scaleX(1.0273);-webkit-text-stroke:0.45px #103a48;">AM</div>
<div class="a" style="left:130.12px;top:541.59px;font-size:22.37px;font-weight:bold;color:#c9420f;transform:scaleX(1.1308);-webkit-text-stroke:0.15px #c9420f;">8</div>
<div class="a" style="left:38.60px;top:591.64px;font-size:21.37px;font-weight:bold;color:#c9420f;transform:scaleX(1.2082);-webkit-text-stroke:0.15px #c9420f;">0</div>
<div class="a" style="left:62.12px;top:614.31px;font-size:19.21px;font-weight:normal;color:#2a2816;transform:scaleX(0.9649);-webkit-text-stroke:0.45px #2a2816;">AC</div>
<div class="a" style="left:165.96px;top:636.23px;font-size:17.77px;font-weight:normal;color:#2a2816;transform:scaleX(1.0273);-webkit-text-stroke:0.45px #2a2816;">RO</div>
<div class="a" style="left:193.11px;top:652.44px;font-size:22.66px;font-weight:bold;color:#c9420f;transform:scaleX(1.1302);-webkit-text-stroke:0.15px #c9420f;">2</div>
<div class="a" style="left:286.93px;top:666.75px;font-size:17.63px;font-weight:normal;color:#2a2816;transform:scaleX(1.0582);-webkit-text-stroke:0.45px #2a2816;">MT</div>
<div class="a" style="left:292.40px;top:686.84px;font-size:22.66px;font-weight:bold;color:#c9420f;transform:scaleX(1.1392);-webkit-text-stroke:0.15px #c9420f;">2</div>
<div class="a" style="left:335.26px;top:529.85px;font-size:17.63px;font-weight:normal;color:#103a48;transform:scaleX(0.9665);-webkit-text-stroke:0.45px #103a48;">PA</div>
<div class="a" style="left:340.67px;top:556.25px;font-size:23.24px;font-weight:bold;color:#c9420f;transform:scaleX(0.9727);-webkit-text-stroke:0.15px #c9420f;">7</div>
<div class="a" style="left:355.23px;top:426.75px;font-size:16.33px;font-weight:normal;color:#103a48;transform:scaleX(1.0586);-webkit-text-stroke:0.45px #103a48;">AP</div>
<div class="a" style="left:358.48px;top:444.96px;font-size:21.22px;font-weight:bold;color:#c9420f;transform:scaleX(0.9279);-webkit-text-stroke:0.15px #c9420f;">2</div>
<div class="a" style="left:459.95px;top:536.03px;font-size:17.77px;font-weight:normal;color:#2a2816;transform:scaleX(1.1093);-webkit-text-stroke:0.45px #2a2816;">MA</div>
<div class="a" style="left:467.50px;top:555.46px;font-size:21.22px;font-weight:bold;color:#c9420f;transform:scaleX(1.2164);-webkit-text-stroke:0.15px #c9420f;">2</div>
<div class="a" style="left:512.15px;top:579.55px;font-size:16.33px;font-weight:normal;color:#2a2816;transform:scaleX(1.1309);-webkit-text-stroke:0.45px #2a2816;">PI</div>
<div class="a" style="left:482.24px;top:586.62px;font-size:22.81px;font-weight:bold;color:#c9420f;transform:scaleX(1.0678);-webkit-text-stroke:0.15px #c9420f;">24</div>
<div class="a" style="left:558.90px;top:534.03px;font-size:17.77px;font-weight:normal;color:#103a48;transform:scaleX(1.0437);-webkit-text-stroke:0.45px #103a48;">CE</div>
<div class="a" style="left:563.68px;top:554.46px;font-size:21.22px;font-weight:bold;color:#c9420f;transform:scaleX(1.0553);-webkit-text-stroke:0.15px #c9420f;">7</div>
<div class="a" style="left:594.40px;top:541.17px;font-size:20.50px;font-weight:bold;color:#c9420f;transform:scaleX(1.2630);-webkit-text-stroke:0.15px #c9420f;">28</div>
<div class="a" style="left:622.14px;top:543.18px;font-size:17.48px;font-weight:normal;color:#262420;transform:scaleX(1.0602);-webkit-text-stroke:0.45px #262420;">RN</div>
<div class="a" style="left:620.67px;top:567.87px;font-size:20.50px;font-weight:bold;color:#c9420f;transform:scaleX(0.9901);-webkit-text-stroke:0.15px #c9420f;">3</div>
<div class="a" style="left:634.00px;top:566.78px;font-size:17.48px;font-weight:normal;color:#262420;transform:scaleX(1.0213);-webkit-text-stroke:0.45px #262420;">PB</div>
<div class="a" style="left:595.32px;top:586.89px;font-size:20.36px;font-weight:bold;color:#c9420f;transform:scaleX(1.0658);-webkit-text-stroke:0.15px #c9420f;">5</div>
<div class="a" style="left:634.06px;top:588.08px;font-size:17.48px;font-weight:normal;color:#262420;transform:scaleX(0.9753);-webkit-text-stroke:0.45px #262420;">PE</div>
<div class="a" style="left:609.86px;top:609.69px;font-size:20.36px;font-weight:bold;color:#c9420f;transform:scaleX(1.0404);-webkit-text-stroke:0.15px #c9420f;">4</div>
<div class="a" style="left:623.62px;top:610.88px;font-size:17.48px;font-weight:normal;color:#262420;transform:scaleX(0.9916);-webkit-text-stroke:0.45px #262420;">AL</div>
<div class="a" style="left:602.41px;top:631.28px;font-size:17.48px;font-weight:normal;color:#103a48;transform:scaleX(1.0216);-webkit-text-stroke:0.45px #103a48;">SE</div>
<div class="a" style="left:608.56px;top:648.67px;font-size:21.80px;font-weight:bold;color:#c9420f;transform:scaleX(1.0907);-webkit-text-stroke:0.15px #c9420f;">2</div>
<div class="a" style="left:412.95px;top:621.32px;font-size:18.49px;font-weight:normal;color:#103a48;transform:scaleX(1.0026);-webkit-text-stroke:0.45px #103a48;">TO</div>
<div class="a" style="left:416.36px;top:642.48px;font-size:23.09px;font-weight:bold;color:#c9420f;transform:scaleX(1.0295);-webkit-text-stroke:0.15px #c9420f;">6</div>
<div class="a" style="left:518.05px;top:656.75px;font-size:18.35px;font-weight:normal;color:#103a48;transform:scaleX(1.0039);-webkit-text-stroke:0.45px #103a48;">BA</div>
<div class="a" style="left:525.05px;top:675.04px;font-size:22.66px;font-weight:bold;color:#c9420f;transform:scaleX(1.0149);-webkit-text-stroke:0.15px #c9420f;">4</div>
<div class="a" style="left:381.93px;top:730.05px;font-size:17.63px;font-weight:normal;color:#2a2816;transform:scaleX(1.1305);-webkit-text-stroke:0.45px #2a2816;">GO</div>
<div class="a" style="left:364.63px;top:746.46px;font-size:21.22px;font-weight:bold;color:#c9420f;transform:scaleX(1.1337);-webkit-text-stroke:0.15px #c9420f;">10</div>
<div class="a" style="left:300.87px;top:786.81px;font-size:19.21px;font-weight:normal;color:#103a48;transform:scaleX(0.9467);-webkit-text-stroke:0.45px #103a48;">MS</div>
<div class="a" style="left:307.36px;top:808.34px;font-size:21.37px;font-weight:bold;color:#c9420f;transform:scaleX(1.1127);-webkit-text-stroke:0.15px #c9420f;">9</div>
<div class="a" style="left:405.84px;top:819.43px;font-size:17.77px;font-weight:normal;color:#103a48;transform:scaleX(0.9590);-webkit-text-stroke:0.45px #103a48;">SP</div>
<div class="a" style="left:410.93px;top:837.64px;font-size:22.66px;font-weight:bold;color:#c9420f;transform:scaleX(0.9798);-webkit-text-stroke:0.15px #c9420f;">32</div>
<div class="a" style="left:357.92px;top:860.73px;font-size:17.77px;font-weight:normal;color:#103a48;transform:scaleX(0.9883);-webkit-text-stroke:0.45px #103a48;">PR</div>
<div class="a" style="left:356.00px;top:875.04px;font-size:22.66px;font-weight:bold;color:#c9420f;transform:scaleX(0.9380);-webkit-text-stroke:0.15px #c9420f;">14</div>
<div class="a" style="left:388.42px;top:904.25px;font-size:16.33px;font-weight:normal;color:#103a48;transform:scaleX(1.0764);-webkit-text-stroke:0.45px #103a48;">SC</div>
<div class="a" style="left:400.34px;top:919.75px;font-size:20.65px;font-weight:bold;color:#c9420f;transform:scaleX(1.0748);-webkit-text-stroke:0.15px #c9420f;">12</div>
<div class="a" style="left:329.57px;top:940.98px;font-size:18.78px;font-weight:normal;color:#2a2816;transform:scaleX(0.9691);-webkit-text-stroke:0.45px #2a2816;">RS</div>
<div class="a" style="left:329.54px;top:964.33px;font-size:20.79px;font-weight:bold;color:#c9420f;transform:scaleX(1.0673);-webkit-text-stroke:0.15px #c9420f;">17</div>
<div class="a" style="left:475.23px;top:761.55px;font-size:16.33px;font-weight:normal;color:#2a2816;transform:scaleX(1.1447);-webkit-text-stroke:0.45px #2a2816;">MG</div>
<div class="a" style="left:482.07px;top:785.15px;font-size:21.94px;font-weight:bold;color:#c9420f;transform:scaleX(0.9297);-webkit-text-stroke:0.15px #c9420f;">31</div>
<div class="a" style="left:550.09px;top:761.12px;font-size:19.50px;font-weight:bold;color:#c9420f;transform:scaleX(1.2714);-webkit-text-stroke:0.15px #c9420f;">1</div>
<div class="a" style="left:546.80px;top:780.65px;font-size:17.63px;font-weight:normal;color:#262420;transform:scaleX(1.0792);-webkit-text-stroke:0.45px #262420;">ES</div>
<div class="a" style="left:518.08px;top:826.35px;font-size:16.33px;font-weight:normal;color:#262420;transform:scaleX(1.1794);-webkit-text-stroke:0.45px #262420;">RJ</div>
<div class="a" style="left:541.56px;top:815.75px;font-size:20.65px;font-weight:bold;color:#c9420f;transform:scaleX(1.1515);-webkit-text-stroke:0.15px #c9420f;">9</div>
<div class="a" style="left:418.43px;top:698.29px;font-size:13.96px;font-weight:normal;color:#1e2a2c;transform:scaleX(1.0435);-webkit-text-stroke:0.2px #1e2a2c;">DF</div>
</body></html>
